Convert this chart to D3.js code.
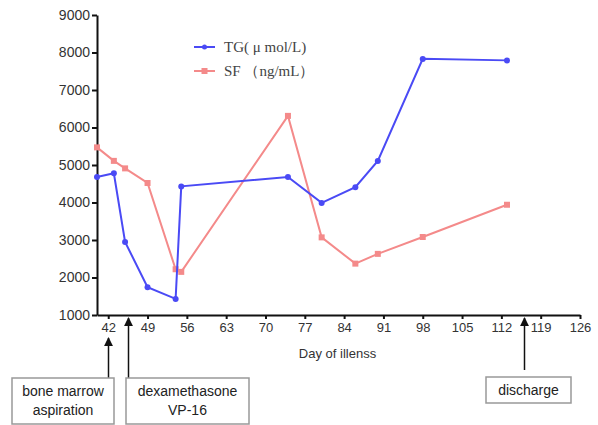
<!DOCTYPE html>
<html lang="en">
<head>
    <meta charset="utf-8">
    <title>TG and SF by day of illness</title>
    <script type="text/javascript" src="https://d3js.org/d3.v7.min.js"></script>
    <style>
        html, body {
            margin: 0;
            padding: 0;
            background: #fff;
        }
        text {
            font-family: Arial, "Liberation Sans", sans-serif;
            fill: #333;
        }
        .axis path,
        .axis line {
            fill: none;
            stroke: #111;
            stroke-width: 2px;
        }
        .axis text {
            font-size: 13px;
        }
        .y.axis text {
            font-size: 14px;
        }
        path.line {
            fill: none;
            stroke-width: 2px;
        }
        .legend text {
            font-family: "Liberation Serif", "DejaVu Serif", serif;
            font-size: 15px;
            fill: #444;
        }
        .note rect {
            fill: #fff;
            stroke: #999;
            stroke-width: 1.5px;
        }
        .note text {
            font-size: 14px;
            fill: #222;
        }
    </style>
</head>
<body>
<script type="text/javascript">
    // values
    var tgDays   = [40, 43, 45, 49, 54, 55, 74, 80, 86, 90, 98, 113];
    var tgValues = [4680, 4780, 2950, 1740, 1430, 4430, 4680, 3990, 4410, 5110, 7830, 7790];
    var sfDays   = [40, 43, 45, 49, 54, 55, 74, 80, 86, 90, 98, 113];
    var sfValues = [5470, 5110, 4910, 4520, 2220, 2150, 6310, 3070, 2370, 2630, 3080, 3940];

    var xTicks = [42, 49, 56, 63, 70, 77, 84, 91, 98, 105, 112, 119, 126];
    var yTicks = [1000, 2000, 3000, 4000, 5000, 6000, 7000, 8000, 9000];

    var seriesNames = ["TG( \u03bc mol/L)", "SF \uff08ng/mL\uff09"];
    var seriesColors = ["#4a4af5", "#f48a8a"];

    // events marked under the axis
    var eventDays = [42, 45.6, 116];
    var eventLabels = [["bone marrow", "aspiration"], ["dexamethasone", "VP-16"], ["discharge"]];

    var width = 598, height = 425;
    var plotLeft = 97, plotRight = 580, plotTop = 15, plotBottom = 315;

    var x = d3.scaleLinear().domain([40, 126]).range([plotLeft, plotRight]);
    var y = d3.scaleLinear().domain([1000, 9000]).range([plotBottom, plotTop]);

    var svg = d3.select("body").append("svg")
        .attr("width", width)
        .attr("height", height);

    var defs = svg.append("defs");
    defs.append("marker")
        .attr("id", "arrow")
        .attr("viewBox", "0 0 10 10")
        .attr("refX", 9).attr("refY", 5)
        .attr("markerWidth", 9).attr("markerHeight", 9)
        .attr("markerUnits", "userSpaceOnUse")
        .attr("orient", "auto")
        .append("path")
        .attr("d", "M0,0 L10,5 L0,10 z")
        .attr("fill", "#111");

    var xAxis = d3.axisBottom(x).tickValues(xTicks).tickSize(4).tickSizeOuter(0).tickPadding(4);
    var yAxis = d3.axisLeft(y).tickValues(yTicks).tickFormat(d3.format("d"))
        .tickSize(5).tickSizeOuter(0).tickPadding(2);

    svg.append("g")
        .attr("class", "axis x")
        .attr("transform", "translate(0," + plotBottom + ")")
        .call(xAxis);
    svg.append("g")
        .attr("class", "y axis")
        .attr("transform", "translate(" + plotLeft + ",0)")
        .call(yAxis);

    svg.append("text")
        .attr("x", (plotLeft + plotRight) / 2 - 1)
        .attr("y", 358)
        .attr("text-anchor", "middle")
        .style("font-size", "13px")
        .text("Day of illenss");

    var line = d3.line()
        .x(function(d) { return x(d[0]); })
        .y(function(d) { return y(d[1]); });

    var sfRows = d3.zip(sfDays, sfValues);
    var tgRows = d3.zip(tgDays, tgValues);

    svg.append("path")
        .attr("class", "line")
        .attr("stroke", seriesColors[1])
        .attr("d", line(sfRows));
    svg.selectAll("rect.sf")
        .data(sfRows)
        .enter().append("rect")
        .attr("class", "sf")
        .attr("x", function(d) { return x(d[0]) - 3; })
        .attr("y", function(d) { return y(d[1]) - 3; })
        .attr("width", 6).attr("height", 6)
        .attr("fill", seriesColors[1]);

    svg.append("path")
        .attr("class", "line")
        .attr("stroke", seriesColors[0])
        .attr("d", line(tgRows));
    svg.selectAll("circle.tg")
        .data(tgRows)
        .enter().append("circle")
        .attr("class", "tg")
        .attr("cx", function(d) { return x(d[0]); })
        .attr("cy", function(d) { return y(d[1]); })
        .attr("r", 3)
        .attr("fill", seriesColors[0]);

    // legend
    var legend = svg.append("g").attr("class", "legend");
    seriesNames.forEach(function(name, i) {
        var ly = 47 + i * 24;
        legend.append("line")
            .attr("x1", 194).attr("x2", 215)
            .attr("y1", ly).attr("y2", ly)
            .attr("stroke", seriesColors[i]).attr("stroke-width", 2);
        if (i === 0) {
            legend.append("circle").attr("cx", 204.5).attr("cy", ly).attr("r", 2.5).attr("fill", seriesColors[i]);
        } else {
            legend.append("rect").attr("x", 201.5).attr("y", ly - 3).attr("width", 6).attr("height", 6).attr("fill", seriesColors[i]);
        }
        legend.append("text")
            .attr("x", 224).attr("y", ly + 5)
            .text(name);
    });

    // event notes below the axis
    var boxes = [
        {x: 12, y: 378, w: 102, h: 46, arrowTop: 338, arrowBottom: 378},
        {x: 126, y: 378, w: 123, h: 46, arrowTop: 318, arrowBottom: 378},
        {x: 486, y: 377, w: 85, h: 26, arrowTop: 318, arrowBottom: 370}
    ];

    var notes = svg.selectAll("g.note")
        .data(eventDays)
        .enter().append("g")
        .attr("class", "note");

    notes.append("line")
        .attr("x1", function(d) { return Math.round(x(d)) + 0.5; })
        .attr("x2", function(d) { return Math.round(x(d)) + 0.5; })
        .attr("y1", function(d, i) { return boxes[i].arrowBottom; })
        .attr("y2", function(d, i) { return boxes[i].arrowTop; })
        .attr("stroke", "#111")
        .attr("stroke-width", 1.5)
        .attr("marker-end", "url(#arrow)");

    notes.append("rect")
        .attr("x", function(d, i) { return boxes[i].x; })
        .attr("y", function(d, i) { return boxes[i].y; })
        .attr("width", function(d, i) { return boxes[i].w; })
        .attr("height", function(d, i) { return boxes[i].h; });

    notes.each(function(d, i) {
        var b = boxes[i];
        var g = d3.select(this);
        eventLabels[i].forEach(function(t, j) {
            g.append("text")
                .attr("x", b.x + b.w / 2)
                .attr("y", b.y + 18 + j * 19)
                .attr("text-anchor", "middle")
                .text(t);
        });
    });
</script>
</body>
</html>
